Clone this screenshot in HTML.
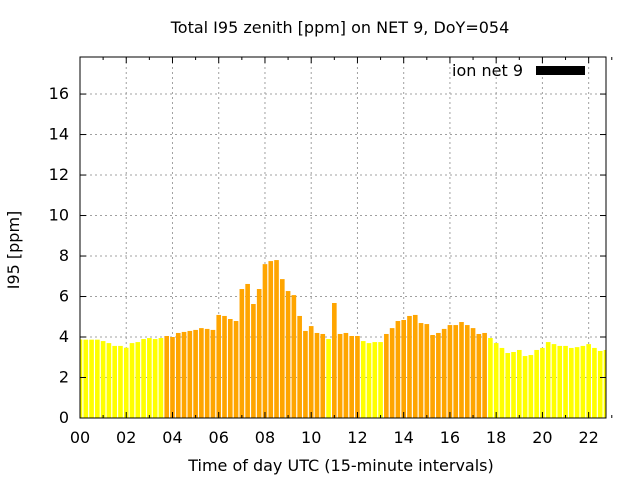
<!DOCTYPE html>
<html><head><meta charset="utf-8"><style>
body{margin:0;background:#fff;}
svg{display:block;font-family:"DejaVu Sans","Liberation Sans",sans-serif;}
</style></head><body>
<svg id="chart" width="640" height="480" viewBox="0 0 640 480" xmlns="http://www.w3.org/2000/svg">
<text x="340" y="33" text-anchor="middle" font-size="16">Total I95 zenith [ppm] on NET 9, DoY=054</text>
<g id="grid"></g>
<g id="bars"></g>
<g id="axes"></g>
<text transform="translate(19,250) rotate(-90)" text-anchor="middle" font-size="16">I95 [ppm]</text>
<text x="341" y="471" text-anchor="middle" font-size="16">Time of day UTC (15-minute intervals)</text>
<g>
<text x="523" y="76" text-anchor="end" font-size="16">ion net 9</text>
<rect x="536" y="66" width="49" height="9" fill="#000"/>
</g>
</svg>
<script>
const values=[3.88,3.87,3.87,3.87,3.80,3.70,3.56,3.56,3.47,3.70,3.75,3.90,3.95,3.90,3.95,
4.05,4.00,4.20,4.25,4.30,4.35,4.44,4.40,4.35,5.09,5.04,4.89,4.79,6.37,6.62,5.63,6.37,7.60,7.75,7.80,6.86,6.27,6.07,5.04,4.30,4.54,4.20,4.15,3.90,5.68,4.15,4.20,4.05,4.05,3.80,3.70,3.75,3.75,
4.15,4.44,4.79,4.84,5.04,5.09,4.69,4.64,4.10,4.20,4.40,4.59,4.59,4.74,4.59,4.44,4.15,4.20,3.95,3.70,3.46,3.21,3.26,3.36,3.06,3.11,3.36,3.46,3.75,3.65,3.56,3.56,3.46,3.50,3.56,3.65,3.46,3.31,3.36];
const yTicks=[0,2,4,6,8,10,12,14,16];
const xTickLabels=["00","02","04","06","08","10","12","14","16","18","20","22"];
const xTickHours=[0,2,4,6,8,10,12,14,16,18,20,22];
const threshold=[4];
const NS="http://www.w3.org/2000/svg";
const L=80,R=606,T=57,B=418,xMax=22.75,yMax=17.83;
const X=h=>L+h/xMax*(R-L);
const Y=v=>B-v/yMax*(B-T);
function mk(tag,attrs,parent){const e=document.createElementNS(NS,tag);for(const k in attrs)e.setAttribute(k,attrs[k]);parent.appendChild(e);return e;}
const grid=document.getElementById('grid'),bars=document.getElementById('bars'),axes=document.getElementById('axes');
yTicks.forEach(v=>{
 if(v>0){const g=mk('line',{x1:L,x2:R,y1:Y(v),y2:Y(v),stroke:'#a0a0a0','stroke-dasharray':'2,3'},grid);
 
 }
 const t=mk('text',{x:L-11,y:Y(v)+5,'text-anchor':'end','font-size':'16'},axes);t.textContent=v;
 
 
 mk('line',{x1:L,x2:L+6,y1:Y(v),y2:Y(v),stroke:'#000'},axes);
 mk('line',{x1:R,x2:R-6,y1:Y(v),y2:Y(v),stroke:'#000'},axes);
});
xTickHours.forEach((h,i)=>{
 if(h>0){const g=mk('line',{x1:X(h),x2:X(h),y1:T,y2:B,stroke:'#a0a0a0','stroke-dasharray':'2,3'},grid);
 
 }
 const t=mk('text',{x:X(h),y:443,'text-anchor':'middle','font-size':'16'},axes);t.textContent=xTickLabels[i];
 
 
 mk('line',{x1:X(h),x2:X(h),y1:B,y2:B-6,stroke:'#000'},axes);
 mk('line',{x1:X(h),x2:X(h),y1:T,y2:T+6,stroke:'#000'},axes);
 mk('line',{x1:X(h+1),x2:X(h+1),y1:B,y2:B-3,stroke:'#000'},axes);
 mk('line',{x1:X(h+1),x2:X(h+1),y1:T,y2:T+3,stroke:'#000'},axes);
});
const step=0.25,bw=(X(step)-X(0))*0.8;
values.forEach((v,i)=>{
 const cx=X(i*step);let x0=cx-bw/2,x1=cx+bw/2;x0=Math.max(x0,L);x1=Math.min(x1,R);
 const r=mk('rect',{x:x0,y:Y(v),width:Math.max(0,x1-x0),height:B-Y(v),fill:v>=threshold[0]?'#ffa500':'#ffff00'},bars);
 
 
});
mk('rect',{x:L,y:T,width:R-L,height:B-T,fill:'none',stroke:'#000'},axes);
</script>
</body></html>
